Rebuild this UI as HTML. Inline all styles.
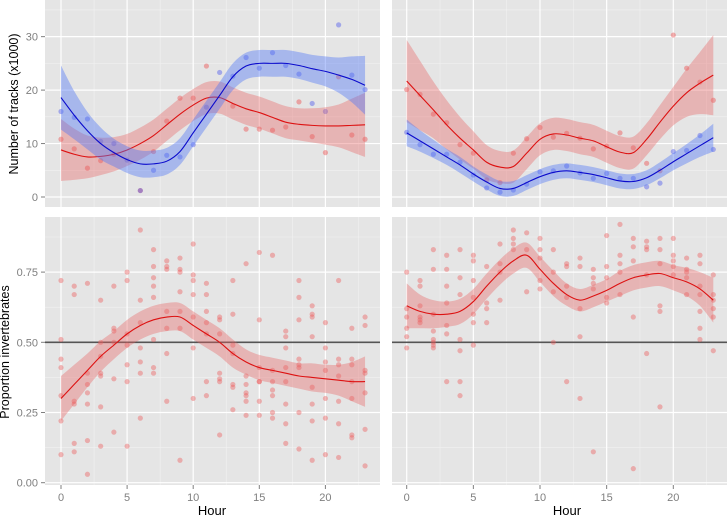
<!DOCTYPE html>
<html><head><meta charset="utf-8"><style>
html,body{margin:0;padding:0;background:#fff;width:728px;height:515px;overflow:hidden}
svg{display:block;font-family:"Liberation Sans",sans-serif}
</style></head><body>
<svg id="chart" width="728" height="515" viewBox="0 0 728 515"></svg>
<script>
// ---- data ----
const hours = [0,1,2,3,4,5,6,7,8,9,10,11,12,13,14,15,16,17,18,19,20,21,22,23];
const topTicks = [0,10,20,30];
const botTicks = [0,0.25,0.5,0.75];
const botTickLabels = ["0.00","0.25","0.50","0.75"];
const xTicks = [0,5,10,15,20];

const tlRedPts = [10.8,9.0,5.4,6.8,8.0,null,1.2,8.5,14.2,18.5,18.5,24.5,null,17,12.7,12.7,12.5,13.1,17.8,11.3,8.3,22.5,11.6,10.8];
const tlBluePts = [16,14.9,14.6,10.4,10.0,6.9,1.2,5.0,7.8,7.5,9.8,16.8,23.3,22.6,26.1,24.1,27.0,24.6,23,17.5,16,32.2,22.8,20.1];
const tlRedFit = [8.8,8,7.5,7.6,8,8.8,10,11.5,13.5,15.5,17.2,18.5,18.6,17.5,16.5,15.8,14.9,14,13.6,13.4,13.3,13.3,13.4,13.5];
const tlRedSe = [5.8,4.8,4,3.5,3.2,3,3,3,3,3,3,3,3,3,3,3,3,3,3,3.2,3.5,4,5,6];
const tlBlueFit = [18.6,15.3,12.4,10,8.3,7,6.2,6.2,6.7,8.5,12,15.5,19,22.5,24.5,25,25,25,24.6,24,23.5,22.8,22,20.9];
const tlBlueSe = [6,4.5,3.5,3,2.6,2.5,2.5,2.5,2.5,2.5,2.5,2.5,2.5,2.5,2.5,2.5,2.5,2.5,2.5,2.6,2.8,3.3,4.3,5.5];

const trRedPts = [20.1,19.2,15.5,13.9,9.8,8.2,3.2,2.7,8.2,10.9,13,11.2,11.9,11.0,9.0,9.5,12.0,9.2,6.3,4.9,30.3,24.1,21.5,18.1];
const trBluePts = [12.1,9.8,8.0,8.0,6.5,4.1,1.7,0.9,1.3,2.4,4.7,4.9,5.8,4.5,3.5,4.4,3.5,3.5,1.9,2.6,8.5,8.7,11.5,8.9];
const trRedFit = [21.7,19,16.3,13.5,11,8.8,6.5,5.6,5.7,8.2,10.8,11.8,11.6,11,10.5,9.4,8.4,8.3,10.8,14,17,19.5,21.3,22.8];
const trRedSe = [7.7,6.5,5.3,4.6,4,3.5,3.2,3,3,3,3,3,3,3,3,3,3,3,3,3.2,3.6,4.5,5.8,7.5];
const trBlueFit = [12,10.5,9,7.5,6,4.3,2.8,1.6,1.6,2.7,3.8,4.6,4.9,4.6,4.2,3.6,3.0,2.9,3.6,5,6.6,8.1,9.6,11.1];
const trBlueSe = [2.5,2,1.7,1.5,1.5,1.4,1.4,1.4,1.4,1.4,1.4,1.4,1.4,1.4,1.4,1.4,1.4,1.4,1.4,1.5,1.6,1.8,2.1,2.6];

const blPts = [
[.72,.51,.44,.41,.31,.22,.10],[.70,.67,.29,.28,.14,.11],[.71,.39,.35,.32,.28,.15,.03],[.65,.50,.45,.39,.38,.27,.13],
[.70,.55,.54,.50,.37,.18],[.75,.72,.53,.49,.42,.36,.13],[.90,.65,.57,.48,.43,.39,.23],[.83,.77,.73,.70,.66,.51,.41,.39],
[.79,.77,.76,.61,.55,.46,.29],[.80,.76,.75,.68,.61,.55,.08],[.85,.74,.72,.67,.59,.48,.30],[.71,.67,.61,.57,.53,.36,.31],
[.59,.58,.53,.39,.37,.36,.17],[.72,.60,.49,.46,.35,.34,.26],[.78,.38,.35,.32,.31,.29,.24],[.82,.58,.41,.36,.36,.29,.24],
[.81,.40,.36,.33,.31,.25,.23],[.54,.52,.48,.41,.36,.28,.21,.14],[.72,.66,.58,.44,.42,.41,.25,.12],[.63,.60,.59,.52,.34,.28,.22,.08],
[.57,.48,.43,.40,.30,.23,.10],[.72,.44,.42,.38,.29,.21,.09],[.55,.44,.42,.36,.30,.17,.16],[.59,.56,.40,.39,.32,.19,.06]];
const blFit = [.30,.35,.40,.45,.49,.53,.56,.58,.59,.59,.56,.53,.50,.46,.43,.41,.40,.39,.38,.375,.37,.365,.36,.36];
const blSe = [.08,.07,.06,.055,.05,.05,.05,.05,.05,.05,.05,.05,.05,.05,.045,.045,.045,.045,.045,.05,.05,.055,.07,.09];

const brPts = [
[.75,.62,.59,.55,.52,.48],[.72,.70,.63,.59,.58,.57],[.83,.76,.60,.54,.51,.50,.49,.48],[.81,.76,.70,.64,.56,.53,.36],
[.83,.73,.67,.51,.47,.36,.31],[.81,.79,.72,.66,.60,.57,.49],[.77,.64,.62,.57],[.85,.78,.75,.65],
[.90,.87,.85,.83],[.89,.83,.68],[.87,.83,.80,.72,.69],[.83,.75,.68,.50],
[.78,.77,.70,.66,.36],[.80,.77,.62,.52,.30],[.76,.73,.71,.69,.11],[.88,.77,.73,.66,.64],
[.92,.81,.78,.75,.67],[.87,.84,.79,.59,.05],[.86,.84,.83,.74,.46],[.87,.83,.78,.63,.61,.27],
[.87,.81,.79,.77,.74],[.80,.76,.75,.73,.67],[.81,.78,.70,.67,.61,.55,.51],[.74,.67,.65,.62,.59,.47]];
const brFit = [.63,.61,.60,.60,.61,.645,.70,.75,.79,.81,.76,.71,.67,.65,.665,.685,.71,.73,.74,.745,.73,.715,.69,.65];
const brSe = [.08,.06,.05,.045,.045,.045,.045,.045,.045,.045,.045,.045,.04,.04,.04,.04,.045,.045,.045,.045,.045,.05,.06,.08];

// ---- drawing ----
const NS = "http://www.w3.org/2000/svg";
const svg = document.getElementById("chart");
function mk(tag, attrs, parent){
  const e = document.createElementNS(NS, tag);
  for (const k in attrs) e.setAttribute(k, attrs[k]);
  (parent||svg).appendChild(e);
  return e;
}
const RED = "rgba(235,70,70,0.42)", BLUE = "rgba(70,80,235,0.42)";
function smoothPath(pts){
  let d = "M"+pts[0][0].toFixed(2)+","+pts[0][1].toFixed(2);
  for (let i=0;i<pts.length-1;i++){
    const p0=pts[Math.max(0,i-1)],p1=pts[i],p2=pts[i+1],p3=pts[Math.min(pts.length-1,i+2)];
    const c1=[p1[0]+(p2[0]-p0[0])/6,p1[1]+(p2[1]-p0[1])/6];
    const c2=[p2[0]-(p3[0]-p1[0])/6,p2[1]-(p3[1]-p1[1])/6];
    d+=" C"+c1.join(",")+" "+c2.join(",")+" "+p2.join(",");
  }
  return d;
}
function panel(name, x0, x1, y0, y1, xs, ys, opts){
  const g = mk("g", {});
  
  
  const bg = mk("rect", {x:x0,y:y0,width:x1-x0,height:y1-y0,fill:"#e5e5e5"}, g);
  
  
  // minor grid
  for (let v of opts.minorY) mk("line",{x1:x0,x2:x1,y1:ys(v),y2:ys(v),stroke:"#f2f2f2","stroke-width":0.6},g);
  for (let h of [2.5,7.5,12.5,17.5,22.5]) mk("line",{x1:xs(h),x2:xs(h),y1:y0,y2:y1,stroke:"#f2f2f2","stroke-width":0.6},g);
  // major grid
  for (let v of opts.ticks) mk("line",{x1:x0,x2:x1,y1:ys(v),y2:ys(v),stroke:"#fff","stroke-width":1.2},g);
  for (let h of xTicks) mk("line",{x1:xs(h),x2:xs(h),y1:y0,y2:y1,stroke:"#fff","stroke-width":1.2},g);
  if (opts.hline!==undefined){
    const hl = mk("line",{x1:x0,x2:x1,y1:ys(opts.hline),y2:ys(opts.hline),stroke:"#555","stroke-width":1.6},g);
    
    
  }
  for (const s of opts.series){
    // points
    s.pts.forEach((v,i)=>{
      const arr = Array.isArray(v)?v:[v];
      arr.forEach(val=>{
        if (val===null) return;
        const c = mk("circle",{cx:xs(hours[i]),cy:ys(val),r:2.6,fill:s.ptColor},g);
        
        
      });
    });
  }
  for (const s of opts.series){
    const up = hours.map((h,i)=>[xs(h),ys(s.fit[i]+s.se[i])]);
    const lo = hours.map((h,i)=>[xs(h),ys(s.fit[i]-s.se[i])]).reverse();
    let d = smoothPath(up);
    d += " L"+lo[0].join(",")+smoothPath(lo).replace(/^M[^ ]+/,"")+" Z";
    const band = mk("path",{d:d,fill:s.bandColor,stroke:"none"},g);
    
    
    const ln = mk("path",{d:smoothPath(hours.map((h,i)=>[xs(h),ys(s.fit[i])])),fill:"none",stroke:s.lineColor,"stroke-width":1.1},g);
    
    
  }
  return g;
}
function xScaleL(h){ return 61 + h*13.22; }
function xScaleR(h){ return 406.7 + h*13.33; }
function yTop(v){ return 197 - v*5.345; }
function yBot(v){ return 482.7 - v*280.8; }

const topMinor=[5,15,25,35], botMinor=[0.125,0.375,0.625,0.875];
panel("panel-tracks-left",45,380,0,207,xScaleL,yTop,{ticks:topTicks,minorY:topMinor,series:[
 {key:"red",pts:tlRedPts,fit:tlRedFit,se:tlRedSe,ptColor:RED,bandColor:"rgba(232,100,100,0.38)",lineColor:"#dd1111"},
 {key:"blue",pts:tlBluePts,fit:tlBlueFit,se:tlBlueSe,ptColor:BLUE,bandColor:"rgba(80,120,245,0.42)",lineColor:"#0a0acc"}]});
panel("panel-tracks-right",392,727,0,207,xScaleR,yTop,{ticks:topTicks,minorY:topMinor,series:[
 {key:"red",pts:trRedPts,fit:trRedFit,se:trRedSe,ptColor:RED,bandColor:"rgba(232,100,100,0.38)",lineColor:"#dd1111"},
 {key:"blue",pts:trBluePts,fit:trBlueFit,se:trBlueSe,ptColor:BLUE,bandColor:"rgba(80,120,245,0.42)",lineColor:"#0a0acc"}]});
panel("panel-proportion-left",45,380,217,485,xScaleL,yBot,{ticks:botTicks,minorY:botMinor,hline:0.5,series:[
 {key:"red",pts:blPts,fit:blFit,se:blSe,ptColor:"rgba(235,90,90,0.42)",bandColor:"rgba(232,100,100,0.38)",lineColor:"#dd1111"}]});
panel("panel-proportion-right",392,727,217,485,xScaleR,yBot,{ticks:botTicks,minorY:botMinor,hline:0.5,series:[
 {key:"red",pts:brPts,fit:brFit,se:brSe,ptColor:"rgba(235,90,90,0.42)",bandColor:"rgba(232,100,100,0.38)",lineColor:"#dd1111"}]});

// axes labels
topTicks.forEach(v=>{
  const t = mk("text",{x:38,y:yTop(v)+4,"text-anchor":"end","font-size":11,fill:"#7f7f7f"});
  t.textContent = v;
  
  
  mk("line",{x1:41,x2:45,y1:yTop(v),y2:yTop(v),stroke:"#7f7f7f","stroke-width":1});
});
botTicks.forEach((v,i)=>{
  const t = mk("text",{x:38,y:yBot(v)+4,"text-anchor":"end","font-size":11,fill:"#7f7f7f"});
  t.textContent = botTickLabels[i];
  
  
  mk("line",{x1:41,x2:45,y1:yBot(v),y2:yBot(v),stroke:"#7f7f7f","stroke-width":1});
});
[xScaleL,xScaleR].forEach(xs=>{
  xTicks.forEach(h=>{
    mk("line",{x1:xs(h),x2:xs(h),y1:485,y2:489,stroke:"#7f7f7f","stroke-width":1});
    const t = mk("text",{x:xs(h),y:501,"text-anchor":"middle","font-size":11,fill:"#7f7f7f"});
    t.textContent = h;
    
    
  });
});
[[212,"x-axis-title-left"],[567,"x-axis-title-right"]].forEach(([x,n])=>{
  const t = mk("text",{x:x,y:515,"text-anchor":"middle","font-size":13,fill:"#000"});
  t.textContent = "Hour";
  
  
});
const yt1 = mk("text",{x:0,y:0,"text-anchor":"middle","font-size":12.5,fill:"#000",transform:"translate(18,104) rotate(-90)"});
yt1.textContent = "Number of tracks (x1000)";


const yt2 = mk("text",{x:0,y:0,"text-anchor":"middle","font-size":12.5,fill:"#000",transform:"translate(9,352) rotate(-90)"});
yt2.textContent = "Proportion invertebrates";


</script>
</body></html>
